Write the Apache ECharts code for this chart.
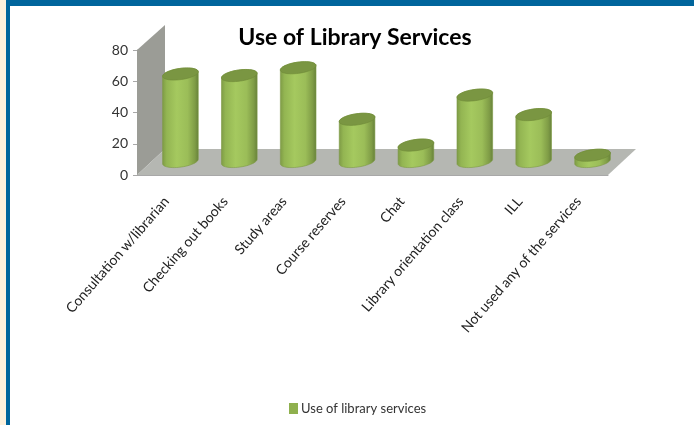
<!DOCTYPE html>
<html><head><meta charset="utf-8">
<style>html,body{margin:0;padding:0;background:#fff}#c{width:694px;height:425px}</style>
<script src="https://cdn.jsdelivr.net/npm/echarts@6/dist/echarts.min.js"></script>
</head><body><div id="c"></div>
<script>
const categories = ["Consultation w/librarian","Checking out books","Study areas","Course reserves","Chat","Library orientation class","ILL","Not used any of the services"];
const values = [56,55,60,27,10.5,42.5,30,4];
const seriesName = "Use of library services";
const titleText = "Use of Library Services";
const yTicks = {min:0,max:80,interval:20};

const DX = 28, DY = 26, BX = 14, BY = 13.5, RX = 18, RY = 5.6, TILT = -8*Math.PI/180;
function ell(cx,cy,t){
  const x=RX*Math.cos(t), y=RY*Math.sin(t);
  return [cx+x*Math.cos(TILT)-y*Math.sin(TILT), cy+x*Math.sin(TILT)+y*Math.cos(TILT)];
}
function cyl(params,api){
  const p0=api.coord([api.value(0),0]), p1=api.coord([api.value(0),api.value(1)]);
  const cx=p0[0]+BX, by=p0[1]-BY, ty=p1[1]-BY;
  const body=[], top=[];
  for(let i=0;i<=24;i++) body.push(ell(cx,by,Math.PI*i/24));
  for(let i=0;i<=24;i++) body.push(ell(cx,ty,Math.PI+Math.PI*i/24));
  for(let i=0;i<48;i++) top.push(ell(cx,ty,2*Math.PI*i/48));
  const grad=new echarts.graphic.LinearGradient(0,0,1,0,[
    {offset:0,color:'#7d9a45'},{offset:0.12,color:'#93b552'},{offset:0.4,color:'#a5c95f'},
    {offset:0.7,color:'#9bbd58'},{offset:0.9,color:'#7f9c46'},{offset:1,color:'#66803a'}]);
  return {type:'group',children:[
    {type:'polygon',shape:{points:body},style:{fill:grad,stroke:'#7d9a45',lineWidth:0.6}},
    {type:'polygon',shape:{points:top},style:{fill:'#7a9642',stroke:'#6e8a38',lineWidth:0.6}}
  ]};
}
function room(params,api){
  const a=api.coord([0,0]), t=api.coord([0,80]);
  const s=api.size([1,0])[0], l=a[0]-s/2, r=l+s*categories.length, y=a[1], yt=t[1];
  return {type:'group',silent:true,children:[
    {type:'polygon',shape:{points:[[l,y],[l+DX,y-DY],[l+DX,yt-DY+1],[l,yt]]},style:{fill:'#9b9c96'}},
    {type:'polygon',shape:{points:[[l,y],[l+DX,y-DY],[r+DX,y-DY],[r,y]]},style:{fill:'#b5b7b2'}}
  ]};
}
const chart=echarts.init(document.getElementById('c'),null,{renderer:'canvas'});
chart.setOption({
  animation:false,
  backgroundColor:'#fff',
  title:{text:titleText,left:350,top:21,textAlign:'center',textStyle:{fontFamily:'Lato',fontWeight:'bold',fontSize:23,color:'#000'}},
  legend:{data:[seriesName],left:284,top:397,icon:'rect',itemWidth:9,itemHeight:11,itemGap:4,
    textStyle:{fontFamily:'Lato',fontSize:13,color:'#333',padding:[0,0,0,-2]}},
  grid:{left:137,right:86,top:50,bottom:250},
  xAxis:{type:'category',data:categories,
    axisLine:{lineStyle:{color:'#a8a8a8'}},axisTick:{show:false},
    axisLabel:{rotate:49,interval:0,margin:24,fontFamily:'Lato',fontSize:14,color:'#222'}},
  yAxis:{type:'value',min:yTicks.min,max:yTicks.max,interval:yTicks.interval,
    splitLine:{show:false},axisLine:{show:true,lineStyle:{color:'#a8a8a8'}},
    axisTick:{show:true,length:4,lineStyle:{color:'#a8a8a8'}},
    axisLabel:{margin:9,fontFamily:'Lato',fontSize:14,color:'#333'}},
  graphic:[
    {type:'rect',z:100,shape:{x:0,y:0,width:6,height:425},style:{fill:'#fdf1dc'}},
    {type:'rect',z:100,shape:{x:6,y:0,width:4,height:425},style:{fill:'#00659c'}},
    {type:'rect',z:100,shape:{x:6,y:0,width:688,height:6},style:{fill:'#00659c'}}
  ],
  series:[
    {type:'custom',name:'room',renderItem:room,data:[[0]],z:1,silent:true,encode:{x:0}},
    {type:'custom',name:seriesName,renderItem:cyl,z:2,itemStyle:{color:'#8fb04e'},
     data:values.map((v,i)=>[i,v]),encode:{x:0,y:1}}
  ]
});
</script></body></html>
